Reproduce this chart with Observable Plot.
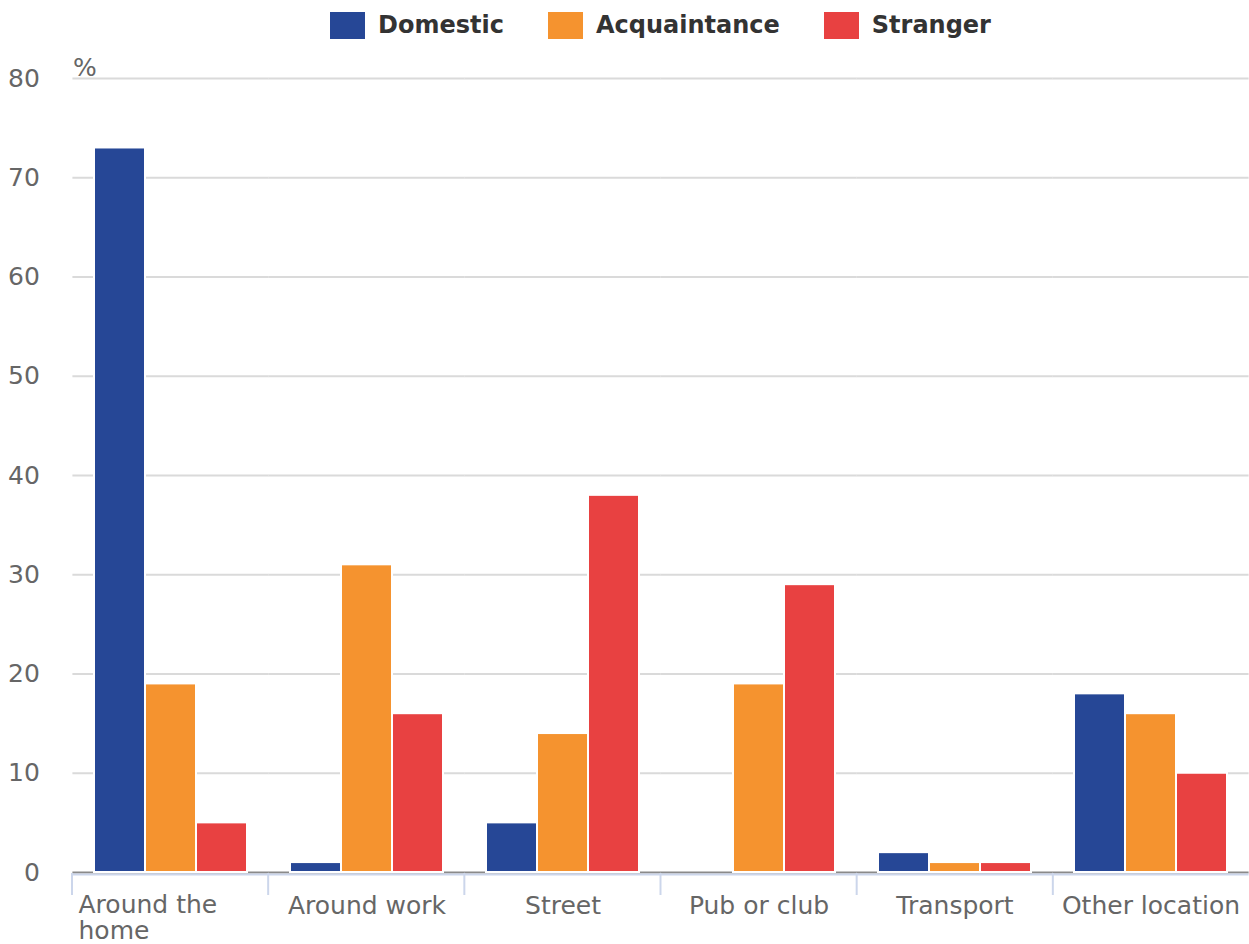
<!DOCTYPE html>
<html>
<head>
<meta charset="utf-8">
<script src="https://cdn.jsdelivr.net/npm/d3@7"></script>
<script src="https://cdn.jsdelivr.net/npm/@observablehq/plot@0.6"></script>
<style>
  body { margin: 0; background: #fff; font-family: "DejaVu Sans", sans-serif; }
  svg, svg text { font-family: "DejaVu Sans", sans-serif !important; }
  #legend { display: flex; justify-content: center; align-items: center; height: 50px; padding-left: 72px; box-sizing: border-box; width: 1249px; }
  .item { display: flex; align-items: center; margin: 0 22px; }
  .sw { width: 35px; height: 27px; margin-right: 13px; }
  .lb { font-weight: bold; font-size: 24px; color: #333; }
</style>
</head>
<body>
<div id="legend"></div>
<div id="chart"></div>
<script>
const categories = ["Around the home", "Around work", "Street", "Pub or club", "Transport", "Other location"];
const xLabels = ["Around the\nhome", "Around work", "Street", "Pub or club", "Transport", "Other location"];
const series = ["Domestic", "Acquaintance", "Stranger"];
const colors = ["#264796", "#f5932f", "#e84141"];
const domestic = [73, 1, 5, 0, 2, 18];
const acquaintance = [19, 31, 14, 19, 1, 16];
const stranger = [5, 16, 38, 29, 1, 10];
const yTicks = [0, 10, 20, 30, 40, 50, 60, 70, 80];

const valuesBySeries = [domestic, acquaintance, stranger];
const rows = [];
categories.forEach((c, i) => series.forEach((s, j) => rows.push({category: c, series: s, value: valuesBySeries[j][i]})));
const labelRows = categories.map((c, i) => ({category: c, label: xLabels[i]}));

// legend
const legend = document.getElementById("legend");
series.forEach((s, i) => {
  const it = document.createElement("div"); it.className = "item";
  const sw = document.createElement("div"); sw.className = "sw"; sw.style.background = colors[i];
  const lb = document.createElement("span"); lb.className = "lb"; lb.textContent = s;
  it.append(sw, lb); legend.append(it);
});

const W = 1249, ML = 72, MR = 0, PAD = 0.21, FS = 25;
// half of the gap between facet groups, so grid lines run continuously across facets
const ext = -((W - ML - MR) / categories.length) * PAD / 2;

const plot = Plot.plot({
  width: W,
  height: 894,
  marginTop: 28,
  marginBottom: 72,
  marginLeft: ML,
  marginRight: MR,
  style: {fontFamily: "DejaVu Sans, sans-serif", fontSize: FS + "px", color: "#666", background: "#fff", overflow: "visible"},
  fx: {domain: categories, paddingInner: PAD, paddingOuter: PAD / 2, axis: null, label: null},
  x: {domain: series, padding: 0, axis: null},
  y: {domain: [0, 80], label: null},
  color: {domain: series, range: colors},
  marks: [
    Plot.ruleY(yTicks.filter(d => d > 0), {y: d => d, insetLeft: ext, insetRight: ext, stroke: "#dadada", strokeWidth: 2}),
    Plot.ruleY([0], {y: d => d, insetLeft: ext, insetRight: ext, stroke: "#8a8a8a", strokeWidth: 2}),
    Plot.barY(rows.filter(d => d.value > 0), {fx: "category", x: "series", y: "value", fill: "series", stroke: "#fff", strokeWidth: 2}),
    Plot.ruleY([0], {y: d => d, insetLeft: ext, insetRight: ext, stroke: "#ccd6eb", strokeWidth: 2, dy: 2}),
    Plot.axisY({ticks: yTicks, tickSize: 0, tickPadding: 33, dx: ext, fontSize: FS, fontFamily: "DejaVu Sans", fill: "#666", label: null}),
    Plot.text(["%"], {facet: "super", frameAnchor: "top-left", textAnchor: "start", lineAnchor: "bottom", dx: ext, dy: -3, text: d => d, fontSize: FS, fontFamily: "DejaVu Sans", fill: "#666"}),
    Plot.text(labelRows.slice(0, 1), {fx: "category", text: "label", frameAnchor: "bottom-left", textAnchor: "start", lineAnchor: "top", lineHeight: 1.05, dx: -15, dy: 22, fontSize: FS, fontFamily: "DejaVu Sans", fill: "#666"}),
    Plot.text(labelRows.slice(1), {fx: "category", text: "label", frameAnchor: "bottom", textAnchor: "middle", lineAnchor: "top", dy: 24, fontSize: FS, fontFamily: "DejaVu Sans", fill: "#666"})
  ]
});
document.getElementById("chart").append(plot);

// category boundary ticks on the x axis, from Plot's fx scale
const fxs = plot.scale("fx");
const ys = plot.scale("y");
const band = d3.scaleBand(fxs.domain, fxs.range).paddingInner(fxs.paddingInner).paddingOuter(fxs.paddingOuter).align(fxs.align ?? 0.5);
const y0 = ys.range[0];
d3.select(plot).append("g")
  .selectAll("line")
  .data(categories)
  .join("line")
  .attr("x1", d => band(d) - band.step() * band.paddingInner() / 2)
  .attr("x2", d => band(d) - band.step() * band.paddingInner() / 2)
  .attr("y1", y0 + 1)
  .attr("y2", y0 + 23)
  .attr("stroke", "#ccd6eb")
  .attr("stroke-width", 2);
</script>
</body>
</html>
